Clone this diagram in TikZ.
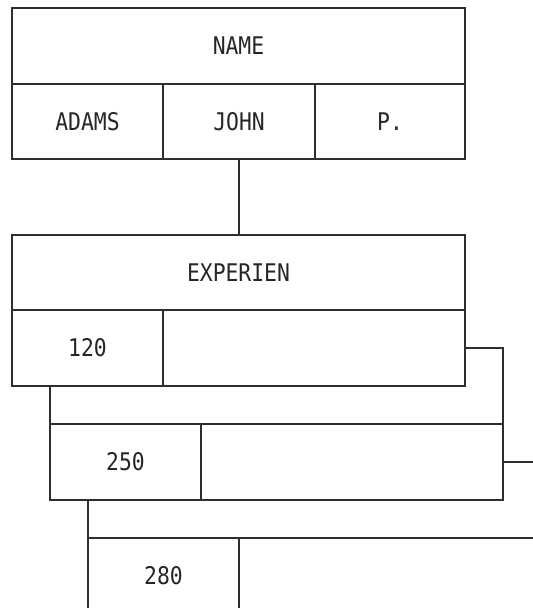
\documentclass[tikz,border=0pt]{standalone}
\usepackage{fontspec}
\newfontfamily\fieldfont[FakeStretch=0.88]{DejaVu Sans Mono}
\begin{document}
\begin{tikzpicture}[x=1pt,y=-1pt,
  frame/.style={draw=black!82,line width=1.6pt},
  cell/.style={frame,fill=white,rectangle,inner sep=0pt,outer sep=0pt,anchor=north west,
    font=\fieldfont\fontsize{24.3}{28}\selectfont,text=black!85},
  head/.style={cell,minimum width=453pt,minimum height=76pt},
  keycell/.style={cell,minimum width=151pt,minimum height=76pt},
  restcell/.style={cell,minimum width=302pt,minimum height=76pt},
  link/.style={frame}]
\useasboundingbox (0,0) rectangle (533,608);
\clip (0,0) rectangle (533,608);

% third EXPERIEN occurrence (furthest back)
\node[head] (h3) at (88,462) {};
\node[keycell] (k3) at (88,538) {280};
\node[restcell] (r3) at (239,538) {};

% second EXPERIEN occurrence
\node[head] (h2) at (50,348) {};
\node[keycell] (k2) at (50,424) {250};
\node[restcell] (r2) at (201,424) {};

% first EXPERIEN occurrence (front)
\node[head] (h1) at (12,235) {EXPERIEN};
\node[keycell] (k1) at (12,310) {120};
\node[restcell] (r1) at (163,310) {};

% root segment NAME
\node[head] (name) at (12,8) {NAME};
\node[cell,minimum width=151pt,minimum height=75pt] (last) at (12,84) {ADAMS};
\node[cell,minimum width=152pt,minimum height=75pt] (first) at (163,84) {JOHN};
\node[cell,minimum width=150pt,minimum height=75pt] (init) at (315,84) {P.};

% parent-child link
\draw[link] (first.south) -- (first.south |- h1.north);
\end{tikzpicture}
\end{document}
